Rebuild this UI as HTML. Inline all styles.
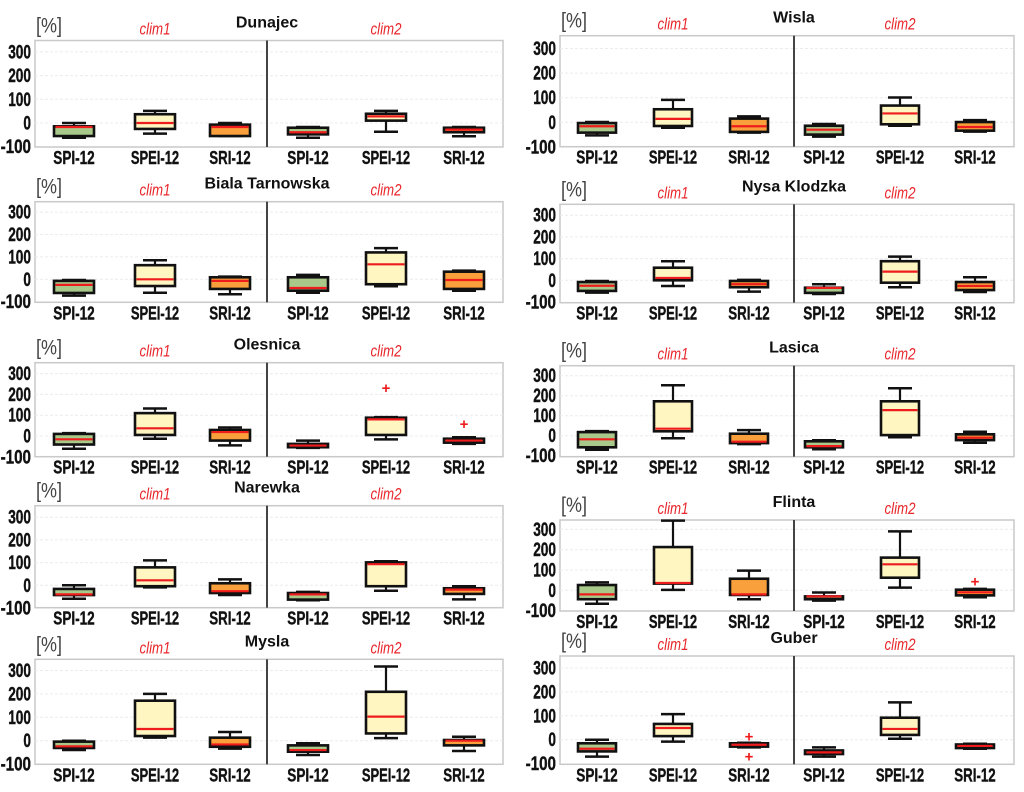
<!DOCTYPE html>
<html>
<head>
<meta charset="utf-8">
<style>
  html,body{margin:0;padding:0;background:#fff;}
  svg{display:block;}
  text{font-family:"Liberation Sans",sans-serif;}
</style>
</head>
<body>
<svg id="fig" width="1024" height="792" viewBox="0 0 1024 792" xmlns="http://www.w3.org/2000/svg"></svg>
<script>
// Data: each row = [whiskerLow, q1, median, q3, whiskerHigh]; order SPI1, SPEI1, SRI1, SPI2, SPEI2, SRI2
const categories = ["SPI-12","SPEI-12","SRI-12","SPI-12","SPEI-12","SRI-12"];
const yTicks = [300,200,100,0,-100];
const stationNames = ["Dunajec","Biala Tarnowska","Olesnica","Narewka","Mysla","Wisla","Nysa Klodzka","Lasica","Flinta","Guber"];
const dunajecStats = [[-62,-55,-17,-14,0],[-45,-25,0,37,51],[-55,-55,-17,-7,0],[-62,-48,-39,-20,-17],[-37,10,28,39,51],[-56,-39,-28,-20,-17]];
const bialaStats = [[-73,-61,-25,-7,-3],[-60,-30,0,63,85],[-67,-43,-7,9,12],[-60,-51,-39,9,20],[-31,-22,67,120,139],[-51,-43,-3,34,39]];
const olesnicaStats = [[-61,-41,-16,10,14],[-13,5,37,110,132],[-45,-22,19,29,41],[-57,-54,-46,-38,-22],[-16,5,80,88,91],[-38,-32,-22,-13,-6]];
const narewkaStats = [[-59,-43,-40,-16,0],[-9,-4,22,79,110],[-43,-34,-26,9,26],[-66,-63,-40,-34,-29],[-24,-4,93,101,106],[-62,-38,-19,-13,-4]];
const myslaStats = [[-40,-31,-24,-4,0],[13,20,50,171,200],[-34,-26,-16,13,37],[-61,-47,-40,-20,-11],[11,31,103,209,317],[-44,-20,0,3,17]];
const wislaStats = [[-53,-42,-16,-3,1],[-22,-15,14,53,91],[-42,-39,-16,15,24],[-58,-50,-30,-14,-7],[-14,-8,36,68,101],[-38,-34,-19,1,9]];
const nysaStats = [[-57,-49,-25,-8,-3],[-26,0,11,58,88],[-52,-32,-18,-3,2],[-63,-58,-35,-34,-18],[-32,-11,40,88,109],[-54,-45,-26,-8,14]];
const lasicaStats = [[-70,-58,-18,18,23],[-13,22,35,172,252],[-42,-37,-30,10,28],[-68,-58,-52,-28,-23],[-8,3,128,172,237],[-35,-22,-10,7,20]];
const flintaStats = [[-66,-44,-20,26,39],[2,33,36,213,343],[-44,-23,-20,57,97],[-51,-44,-30,-30,-11],[13,62,128,161,290],[-34,-25,-10,3,7]];
const guberStats = [[-71,-49,-38,-15,0],[-8,15,49,66,107],[-32,-29,-21,-15,-13],[-71,-60,-53,-45,-32],[4,20,45,92,156],[-38,-35,-26,-20,-17]];
// outliers: [boxIndex, value]
const olesnicaOutliers = [[4,231],[5,57]];
const flintaOutliers = [[5,43]];
const guberOutliers = [[2,13],[2,-71]];
const emptyOutliers = [];

const allStats = [dunajecStats,bialaStats,olesnicaStats,narewkaStats,myslaStats,wislaStats,nysaStats,lasicaStats,flintaStats,guberStats];
const allOutliers = [emptyOutliers,emptyOutliers,olesnicaOutliers,emptyOutliers,emptyOutliers,emptyOutliers,emptyOutliers,emptyOutliers,flintaOutliers,guberOutliers];

// Layout (pixels)
const leftCol = {x0:35, x1:503, div:267, centers:[74,155,230,308,386,464], hw:20};
const rightCol = {x0:560, x1:1014, div:794, centers:[597,673,749,824,900,975], hw:19};
const frames = [
  {col:leftCol, top:40.5, bottom:147, zeroY:123, per100:23.7},
  {col:leftCol, top:201.7, bottom:302.3, zeroY:279.3, per100:22.4},
  {col:leftCol, top:362.7, bottom:456.7, zeroY:436, per100:20.8},
  {col:leftCol, top:505.7, bottom:607.7, zeroY:585.3, per100:22.7},
  {col:leftCol, top:659.3, bottom:764.3, zeroY:740.7, per100:23.4},
  {col:rightCol, top:35.7, bottom:146.7, zeroY:122.3, per100:24.6},
  {col:rightCol, top:204.3, bottom:302.7, zeroY:280.3, per100:21.7},
  {col:rightCol, top:365.7, bottom:456.7, zeroY:435.7, per100:20},
  {col:rightCol, top:520, bottom:611, zeroY:590.3, per100:20.3},
  {col:rightCol, top:656, bottom:764.3, zeroY:739.7, per100:23.9}
];
const fills = ["#a9c98b","#fff6c1","#f9a03c","#a9c98b","#fff6c1","#f9a03c"];

const NS = "http://www.w3.org/2000/svg";
const svg = document.getElementById("fig");
function mk(tag, attrs, parent){
  const e = document.createElementNS(NS, tag);
  for (const k in attrs) e.setAttribute(k, attrs[k]);
  (parent||svg).appendChild(e);
  return e;
}

frames.forEach((f, pi) => {
  const c = f.col;
  const yScale = v => f.zeroY - v * f.per100 / 100;
  const g = mk("g", {});
  
  

  const fr = mk("rect", {x:c.x0, y:f.top, width:c.x1-c.x0, height:f.bottom-f.top, fill:"#fff", stroke:"#c9c9c9", "stroke-width":1.5}, g);
  
  

  yTicks.forEach(t => {
    const y = yScale(t);
    if (t > -100) {
      const gl = mk("line", {x1:c.x0, x2:c.x1, y1:y, y2:y, stroke:"#ececec", "stroke-width":1, "stroke-dasharray":"3,2"}, g);
      
      
    }
    const s = String(t);
    const tl = mk("text", {x:c.x0-4, y:y+6.5, "text-anchor":"end", "font-size":19, "font-weight":"bold", fill:"#111",
      textLength: s.length*7.6, lengthAdjust:"spacingAndGlyphs", stroke:"#111", "stroke-width":0.4}, g);
    tl.textContent = s;
    
    
  });

  const dv = mk("line", {x1:c.div, x2:c.div, y1:f.top, y2:f.bottom, stroke:"#444", "stroke-width":2}, g);
  
  

  const unit = mk("text", {x:c.x0+1, y:f.top-8, "font-size":21, fill:"#444", textLength:26, lengthAdjust:"spacingAndGlyphs"}, g);
  unit.textContent = "[%]";
  
  
  const title = mk("text", {x:c.div, y:f.top-13, "text-anchor":"middle", "font-size":16, "font-weight":"bold", fill:"#111"}, g);
  title.textContent = stationNames[pi];
  
  
  ["clim1","clim2"].forEach((lab, k) => {
    const cx = k === 0 ? c.centers[1] : c.centers[4];
    const ct = mk("text", {x:cx, y:f.top-6, "text-anchor":"middle", "font-size":17, "font-style":"italic", fill:"#e8262b",
      textLength:31, lengthAdjust:"spacingAndGlyphs"}, g);
    ct.textContent = lab;
    
    
  });

  allStats[pi].forEach((s, i) => {
    const cx = c.centers[i];
    const [lo, q1, med, q3, hi] = s;
    const bg = mk("g", {}, g);
    
    
    const cw = 12;
    mk("line", {x1:cx, x2:cx, y1:yScale(hi), y2:yScale(q3), stroke:"#111", "stroke-width":2.2}, bg);
    mk("line", {x1:cx, x2:cx, y1:yScale(q1), y2:yScale(lo), stroke:"#111", "stroke-width":2.2}, bg);
    mk("line", {x1:cx-cw, x2:cx+cw, y1:yScale(hi), y2:yScale(hi), stroke:"#111", "stroke-width":2.5}, bg);
    mk("line", {x1:cx-cw, x2:cx+cw, y1:yScale(lo), y2:yScale(lo), stroke:"#111", "stroke-width":2.5}, bg);
    mk("rect", {x:cx-c.hw, y:yScale(q3), width:2*c.hw, height:Math.max(1, yScale(q1)-yScale(q3)), fill:fills[i], stroke:"#111", "stroke-width":2.6}, bg);
    mk("line", {x1:cx-c.hw+1.5, x2:cx+c.hw-1.5, y1:yScale(med), y2:yScale(med), stroke:"#ee1c1c", "stroke-width":2.2}, bg);
  });

  allOutliers[pi].forEach(o => {
    const cx = c.centers[o[0]];
    const ot = mk("text", {x:cx, y:yScale(o[1])+5, "text-anchor":"middle", "font-size":15, "font-weight":"bold", fill:"#ee1c1c"}, g);
    ot.textContent = "+";
    
    
  });

  categories.forEach((lab, i) => {
    const xl = mk("text", {x:c.centers[i], y:f.bottom+17, "text-anchor":"middle", "font-size":18, "font-weight":"bold", fill:"#111",
      textLength: lab.length*6.9, lengthAdjust:"spacingAndGlyphs", stroke:"#111", "stroke-width":0.4}, g);
    xl.textContent = lab;
    
    
  });
});
</script>
</body>
</html>
